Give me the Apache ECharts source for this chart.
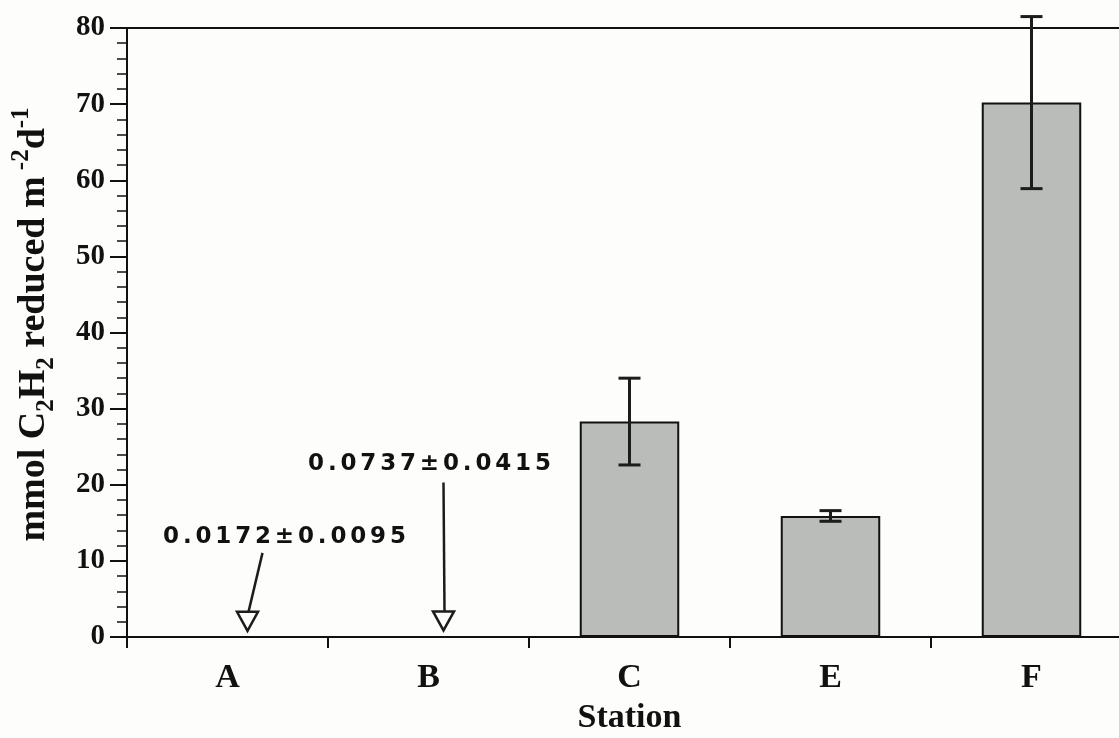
<!DOCTYPE html>
<html>
<head>
<meta charset="utf-8">
<script src="https://cdn.jsdelivr.net/npm/echarts@6/dist/echarts.min.js"></script>
<style>
html,body{margin:0;padding:0;background:#fdfdfb;}
#chart{width:1119px;height:738px;}
</style>
</head>
<body>
<div id="chart"></div>
<script>
// ---- data ----
const stations = ['A', 'B', 'C', 'E', 'F'];
const means = [0.0172, 0.0737, 28.3, 15.9, 70.2];
const errors = [0.0095, 0.0415, 5.7, 0.7, 11.3];
const arrowNoted = ['A', 'B'];          // stations whose tiny values are shown by an arrow
const yMin = 0, yMax = 80, yInterval = 10;
const xTitle = 'Station';

// ---- styles ----
const INK = '#111';
const SERIF = 'Liberation Serif';
const annoStyle = {
  A: { tip: [20, -6], lineFrom: [35, -84], text: [57, -100] },
  B: { tip: [15, -6], lineFrom: [15, -154], text: [1, -172] }
};

const chart = echarts.init(document.getElementById('chart'));

const barData = stations.map((s, i) => ({
  value: means[i],
  itemStyle: arrowNoted.includes(s) ? { borderWidth: 0, color: 'transparent' } : undefined
}));

const errData = [];
stations.forEach((s, i) => { if (!arrowNoted.includes(s)) errData.push([i, means[i], errors[i]]); });

const annoData = [];
const annoLabels = [];
stations.forEach((s, i) => {
  if (arrowNoted.includes(s)) {
    annoData.push([i, means[i], errors[i]]);
    const lbl = means[i].toFixed(4) + '±' + errors[i].toFixed(4);
    annoLabels.push({ st: s, text: lbl.split('').join('\u2006') });
  }
});

const option = {
  backgroundColor: '#fdfdfb',
  animation: false,
  grid: { left: 127, top: 28, width: 1005, height: 609, outerBoundsMode: 'none', containLabel: false, show: true, borderColor: INK, borderWidth: 2, backgroundColor: 'transparent' },
  xAxis: {
    type: 'category',
    data: stations,
    boundaryGap: true,
    axisLine: { lineStyle: { color: INK, width: 2 } },
    axisTick: { show: true, length: 11, lineStyle: { color: INK, width: 2 } },
    axisLabel: { margin: 24, fontFamily: SERIF, fontWeight: 'bold', fontSize: 34, color: INK },
    name: xTitle,
    nameLocation: 'middle',
    nameGap: 64,
    nameTextStyle: { fontFamily: SERIF, fontWeight: 'bold', fontSize: 34, color: INK }
  },
  yAxis: {
    type: 'value',
    min: yMin, max: yMax, interval: yInterval,
    splitLine: { show: false },
    axisLine: { show: true, lineStyle: { color: INK, width: 2 } },
    axisTick: { show: true, length: 17, lineStyle: { color: INK, width: 2 } },
    minorTick: { show: true, splitNumber: 5, length: 10, lineStyle: { color: INK, width: 1.5 } },
    axisLabel: { margin: 22, fontFamily: SERIF, fontWeight: 'bold', fontSize: 29, color: INK },
    name: '{n|mmol C}{sub|2}{n|H}{sub|2}{n| reduced m}{sup| -2}{n|d}{sup|-1}',
    nameLocation: 'middle',
    nameRotate: 90,
    nameGap: 68,
    nameTextStyle: {
      padding: [0, 0, 0, 16],
      rich: {
        n: { fontFamily: SERIF, fontWeight: 'bold', fontSize: 38, color: INK, lineHeight: 50, verticalAlign: 'middle' },
        sub: { fontFamily: SERIF, fontWeight: 'bold', fontSize: 25, color: INK, lineHeight: 50, verticalAlign: 'bottom' },
        sup: { fontFamily: SERIF, fontWeight: 'bold', fontSize: 25, color: INK, lineHeight: 50, verticalAlign: 'top' }
      }
    }
  },
  series: [
    {
      type: 'bar',
      data: barData,
      barWidth: '49.5%',
      z: 2,
      itemStyle: { color: '#b9bcb8', borderColor: INK, borderWidth: 2 }
    },
    {
      type: 'custom',
      clip: false,
      z: 10,
      data: errData,
      renderItem: function (params, api) {
        const i = api.value(0), v = api.value(1), e = api.value(2);
        const top = api.coord([i, v + e]);
        const bot = api.coord([i, v - e]);
        const cap = 11;
        const st = { stroke: '#1c1c1c', lineWidth: 3 };
        return {
          type: 'group',
          children: [
            { type: 'line', shape: { x1: top[0], y1: top[1], x2: bot[0], y2: bot[1] }, style: st },
            { type: 'line', shape: { x1: top[0] - cap, y1: top[1], x2: top[0] + cap, y2: top[1] }, style: st },
            { type: 'line', shape: { x1: bot[0] - cap, y1: bot[1], x2: bot[0] + cap, y2: bot[1] }, style: st }
          ]
        };
      }
    },
    {
      type: 'custom',
      clip: false,
      z: 10,
      data: annoData,
      renderItem: function (params, api) {
        const i = api.value(0), v = api.value(1);
        const base = api.coord([i, v]);
        const lab = annoLabels[params.dataIndex];
        const s = annoStyle[lab.st];
        const tip = [base[0] + s.tip[0], base[1] + s.tip[1]];
        const triH = 19, triW = 10.5;
        const from = [base[0] + s.lineFrom[0], base[1] + s.lineFrom[1]];
        return {
          type: 'group',
          children: [
            { type: 'line', shape: { x1: from[0], y1: from[1], x2: tip[0] + 1, y2: tip[1] - triH }, style: { stroke: '#1c1c1c', lineWidth: 2.5 } },
            { type: 'polygon', shape: { points: [[tip[0] - triW, tip[1] - triH], [tip[0] + triW, tip[1] - triH], tip] }, style: { fill: '#fdfdfb', stroke: '#1c1c1c', lineWidth: 2.5 } },
            { type: 'text', x: base[0] + s.text[0], y: base[1] + s.text[1], style: { text: lab.text, fontFamily: 'DejaVu Sans', fontWeight: 'bold', fontSize: 23, fill: INK, align: 'center', verticalAlign: 'middle' } }
          ]
        };
      }
    }
  ]
};
chart.setOption(option);
</script>
</body>
</html>
